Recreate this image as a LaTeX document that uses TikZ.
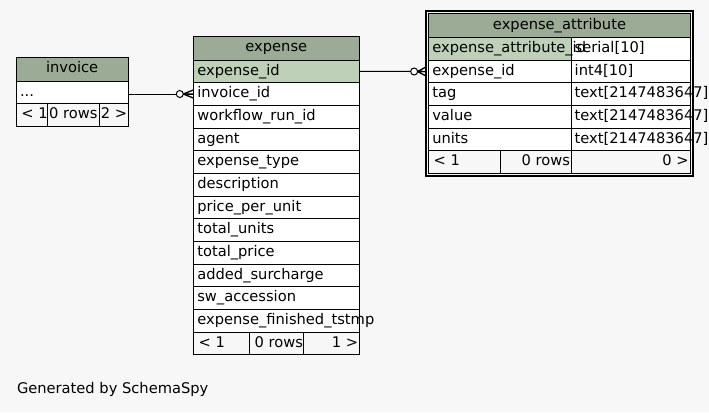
\documentclass[tikz,border=0pt]{standalone}
\usepackage{fontspec}
\setmainfont{DejaVu Sans}
\usepackage{xcolor}
\usepackage{tikz}
\usetikzlibrary{positioning,fit}
\definecolor{headbg}{HTML}{9BAB96}
\definecolor{keybg}{HTML}{BED1B8}
\definecolor{pagebg}{HTML}{F7F7F7}
\tikzset{
    cell/.style={draw, fill=white, inner sep=0pt, outer sep=0pt, minimum height=17pt, line width=0.75pt},
    head/.style={cell, fill=headbg, minimum height=18pt, text height=8pt, text depth=2.5pt},
    key/.style={cell, fill=keybg},
    foot/.style={cell, fill=pagebg},
    txt/.style={inner sep=0pt, outer sep=0pt, text height=8pt, text depth=2.5pt},
    frame/.style={draw, line width=1.5pt, inner sep=1.6pt},
    link/.style={line width=0.75pt},
    ring/.style={draw, circle, fill=white, inner sep=0pt, outer sep=0pt, minimum size=5.25pt, line width=0.75pt},
    crow/.style={line width=1pt}}

\begin{document}
\begin{tikzpicture}[x=0.75pt,y=-0.75pt,font=\fontsize{11}{13}\selectfont]
\useasboundingbox[fill=pagebg] (0,0) rectangle (709,412);

% invoice
\node[head, minimum width=84.2pt, anchor=north west] (inv) at (16,57.3) {invoice};
\node[cell, minimum width=84.2pt, below=0pt of inv] (inv-more) {};
\node[txt, right=3pt of inv-more.west] (inv-more-t) {...};
\node[foot, minimum width=23.5pt, anchor=north west] (inv-prev) at (inv-more.south west) {};
\node[foot, minimum width=39pt, right=0pt of inv-prev] (inv-rows) {};
\node[foot, minimum width=21.7pt, right=0pt of inv-rows] (inv-next) {};
\node[txt, right=4pt of inv-prev.west] (inv-prev-t) {< 1};
\node[txt] (inv-rows-t) at (inv-rows) {0 rows};
\node[txt, left=0.8pt of inv-next.east] (inv-next-t) {2 >};

% expense
\node[head, minimum width=124.5pt, anchor=north west] (exp) at (193.3,36) {expense};
\node[key, minimum width=124.5pt, below=0pt of exp] (exp-id) {};
\node[cell, minimum width=124.5pt, below=0pt of exp-id] (exp-invoice) {};
\node[cell, minimum width=124.5pt, below=0pt of exp-invoice] (exp-workflow) {};
\node[cell, minimum width=124.5pt, below=0pt of exp-workflow] (exp-agent) {};
\node[cell, minimum width=124.5pt, below=0pt of exp-agent] (exp-type) {};
\node[cell, minimum width=124.5pt, below=0pt of exp-type] (exp-desc) {};
\node[cell, minimum width=124.5pt, below=0pt of exp-desc] (exp-price) {};
\node[cell, minimum width=124.5pt, below=0pt of exp-price] (exp-units) {};
\node[cell, minimum width=124.5pt, below=0pt of exp-units] (exp-total) {};
\node[cell, minimum width=124.5pt, below=0pt of exp-total] (exp-surcharge) {};
\node[cell, minimum width=124.5pt, below=0pt of exp-surcharge] (exp-sw) {};
\node[cell, minimum width=124.5pt, below=0pt of exp-sw] (exp-finished) {};
\node[txt, right=3pt of exp-id.west] (exp-id-t) {expense\_id};
\node[txt, right=3pt of exp-invoice.west] (exp-invoice-t) {invoice\_id};
\node[txt, right=3pt of exp-workflow.west] (exp-workflow-t) {workflow\_run\_id};
\node[txt, right=3pt of exp-agent.west] (exp-agent-t) {agent};
\node[txt, right=3pt of exp-type.west] (exp-type-t) {expense\_type};
\node[txt, right=3pt of exp-desc.west] (exp-desc-t) {description};
\node[txt, right=3pt of exp-price.west] (exp-price-t) {price\_per\_unit};
\node[txt, right=3pt of exp-units.west] (exp-units-t) {total\_units};
\node[txt, right=3pt of exp-total.west] (exp-total-t) {total\_price};
\node[txt, right=3pt of exp-surcharge.west] (exp-surcharge-t) {added\_surcharge};
\node[txt, right=3pt of exp-sw.west] (exp-sw-t) {sw\_accession};
\node[txt, right=3pt of exp-finished.west] (exp-finished-t) {expense\_finished\_tstmp};
\node[foot, minimum width=42pt, anchor=north west] (exp-prev) at (exp-finished.south west) {};
\node[foot, minimum width=41pt, right=0pt of exp-prev] (exp-rows) {};
\node[foot, minimum width=41.5pt, right=0pt of exp-rows] (exp-next) {};
\node[txt, right=4pt of exp-prev.west] (exp-prev-t) {< 1};
\node[txt, left=0.8pt of exp-rows.east] (exp-rows-t) {0 rows};
\node[txt, left=0.8pt of exp-next.east] (exp-next-t) {1 >};

% expense_attribute
\node[head, minimum width=196.8pt, anchor=north west] (attr) at (428.3,13.5) {expense\_attribute};
\node[key, minimum width=107.5pt, anchor=north west] (attr-id) at (attr.south west) {};
\node[cell, minimum width=89.3pt, right=0pt of attr-id] (attr-id-type) {};
\node[cell, minimum width=107.5pt, below=0pt of attr-id] (attr-eid) {};
\node[cell, minimum width=89.3pt, right=0pt of attr-eid] (attr-eid-type) {};
\node[cell, minimum width=107.5pt, below=0pt of attr-eid] (attr-tag) {};
\node[cell, minimum width=89.3pt, right=0pt of attr-tag] (attr-tag-type) {};
\node[cell, minimum width=107.5pt, below=0pt of attr-tag] (attr-value) {};
\node[cell, minimum width=89.3pt, right=0pt of attr-value] (attr-value-type) {};
\node[cell, minimum width=107.5pt, below=0pt of attr-value] (attr-units) {};
\node[cell, minimum width=89.3pt, right=0pt of attr-units] (attr-units-type) {};
\node[foot, minimum width=54pt, anchor=north west] (attr-prev) at (attr-units.south west) {};
\node[foot, minimum width=53.5pt, right=0pt of attr-prev] (attr-rows) {};
\node[foot, minimum width=89.3pt, right=0pt of attr-rows] (attr-next) {};
\node[txt, right=3pt of attr-id.west] (attr-id-t) {expense\_attribute\_id};
\node[txt, right=2.3pt of attr-id-type.west] (attr-id-type-t) {serial[10]};
\node[txt, right=3pt of attr-eid.west] (attr-eid-t) {expense\_id};
\node[txt, right=2.3pt of attr-eid-type.west] (attr-eid-type-t) {int4[10]};
\node[txt, right=3pt of attr-tag.west] (attr-tag-t) {tag};
\node[txt, right=2.3pt of attr-tag-type.west] (attr-tag-type-t) {text[2147483647]};
\node[txt, right=3pt of attr-value.west] (attr-value-t) {value};
\node[txt, right=2.3pt of attr-value-type.west] (attr-value-type-t) {text[2147483647]};
\node[txt, right=3pt of attr-units.west] (attr-units-t) {units};
\node[txt, right=2.3pt of attr-units-type.west] (attr-units-type-t) {text[2147483647]};
\node[txt, right=4pt of attr-prev.west] (attr-prev-t) {< 1};
\node[txt, left=1.2pt of attr-rows.east] (attr-rows-t) {0 rows};
\node[txt, left=1.5pt of attr-next.east] (attr-next-t) {0 >};
\node[frame, fit=(attr)(attr-next)] (attr-frame) {};

% links
\coordinate (inv-out) at (exp-invoice.west -| inv-more.east);
\draw[link] (inv-out) -- (exp-invoice.west);
\node[ring, left=7.5pt of exp-invoice.west] (inv-ring) {};
\draw[crow] (inv-ring.east) -- ([yshift=3pt]exp-invoice.west)
            (inv-ring.east) -- (exp-invoice.west)
            (inv-ring.east) -- ([yshift=-3pt]exp-invoice.west);

\coordinate (attr-in) at ([xshift=-2.5pt]attr-eid.west);
\draw[link] (exp-id.east) -- (attr-in);
\node[ring, left=5.5pt of attr-in] (attr-ring) {};
\draw[crow] (attr-ring.east) -- ([yshift=3pt]attr-in)
            (attr-ring.east) -- (attr-in)
            (attr-ring.east) -- ([yshift=-3pt]attr-in);

\node[txt, anchor=west] (credit) at (17,390) {Generated by SchemaSpy};
\end{tikzpicture}
\end{document}
